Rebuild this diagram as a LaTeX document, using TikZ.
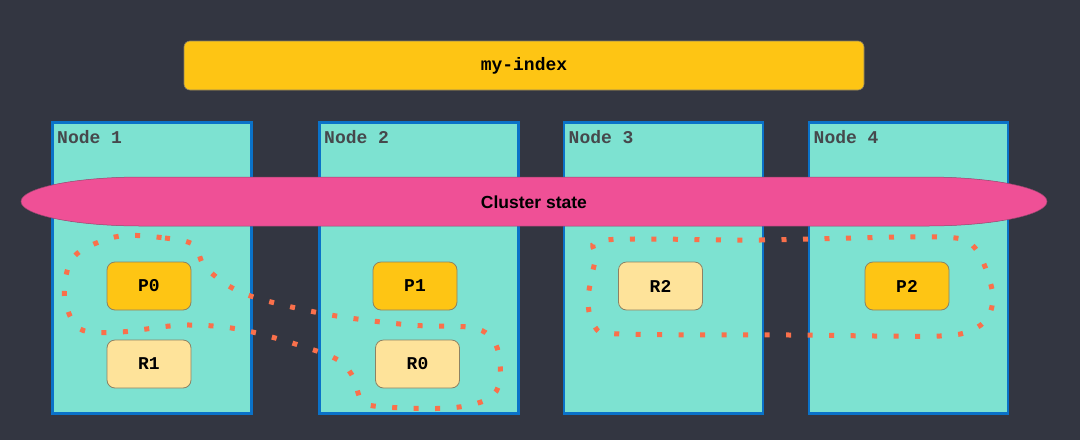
\documentclass[tikz,border=0pt]{standalone}
\usepackage{fontspec}
\setmainfont{Liberation Sans}
\setmonofont{Liberation Mono}
\definecolor{bg}{RGB}{51,54,65}
\definecolor{idx}{RGB}{254,197,20}
\definecolor{rep}{RGB}{254,227,154}
\definecolor{tealbox}{RGB}{125,226,209}
\definecolor{nodeblue}{RGB}{10,114,200}
\definecolor{pinkc}{RGB}{239,80,150}
\definecolor{pinkline}{RGB}{150,70,110}
\definecolor{dotc}{RGB}{250,112,75}
\definecolor{lbl}{RGB}{70,72,76}
\definecolor{shardline}{RGB}{140,130,100}
\begin{document}
\begin{tikzpicture}[x=1pt,y=-1pt,
  nodebox/.style={draw=nodeblue, line width=2.5pt, fill=tealbox, minimum width=199pt, minimum height=291pt, anchor=north west, inner sep=0pt},
  nodelbl/.style={anchor=base west, text=lbl, font=\ttfamily\bfseries\fontsize{18}{18}\selectfont, inner sep=0pt},
  shard/.style={draw=shardline, line width=0.8pt, rounded corners=8pt, minimum width=84pt, minimum height=48pt, inner sep=0pt, text=black, font=\ttfamily\bfseries\fontsize{18}{18}\selectfont},
  primary/.style={shard, fill=idx},
  replica/.style={shard, fill=rep},
  dotloop/.style={draw=dotc, line width=5pt, dash pattern=on 5pt off 16.5pt}
]
\useasboundingbox (0,0) rectangle (1080,440);
\fill[bg] (0,0) rectangle (1080,440);

% index bar
\node[draw=shardline, line width=0.6pt, fill=idx, rounded corners=6pt, minimum width=680pt, minimum height=49pt, inner sep=0pt,
  font=\ttfamily\bfseries\fontsize{18}{18}\selectfont, text=black] (index) at (524,65.5) {my-index};

% cluster nodes
\node[nodebox] (n1) at (51,121) {};
\node[nodebox] (n2) at (318,121) {};
\node[nodebox] (n3) at (562.5,121) {};
\node[nodebox] (n4) at (807.5,121) {};
\node[nodelbl] (l1) at (57,143) {Node 1};
\node[nodelbl] (l2) at (324,143) {Node 2};
\node[nodelbl] (l3) at (568.5,143) {Node 3};
\node[nodelbl] (l4) at (813.5,143) {Node 4};

% cluster state band
\draw[fill=pinkc, draw=pinkline, line width=0.5pt]
  (21,201.5) .. controls (21,188) and (74.7,177) .. (141,177)
  -- (927,177) .. controls (993.3,177) and (1047,188) .. (1047,201.5)
  .. controls (1047,215) and (993.3,226) .. (927,226)
  -- (141,226) .. controls (74.7,226) and (21,215) .. (21,201.5) -- cycle;
\node[font=\bfseries\fontsize{17.5}{17.5}\selectfont, text=black] (cs) at (534,202) {Cluster state};

% shards
\node[primary] (p0) at (149,286) {P0};
\node[replica] (r1) at (149,364) {R1};
\node[primary] (p1) at (415,286) {P1};
\node[replica] (r0) at (417.5,364) {R0};
\node[replica] (r2) at (660.5,286) {R2};
\node[primary] (p2) at (907,286) {P2};

% shard groups
\draw[dotloop] plot[smooth cycle, tension=0.55] coordinates {
  (120,236) (165,238) (194,245) (206,268) (245,294) (325,314) (410,325) (474,328)
  (496,345) (500,380) (488,399) (450,408) (385,407) (362,401) (352,375) (330,356)
  (248,331) (185,325) (120,332) (80,329) (65,300) (68,268) (82,250)};
\draw[dotloop] plot[smooth cycle, tension=0.5] coordinates {
  (605,240) (760,240) (940,237) (975,248) (992,289) (990,313) (976,328) (940,336)
  (790,335) (620,334) (595,327) (588,300) (596,258)};
\end{tikzpicture}
\end{document}
